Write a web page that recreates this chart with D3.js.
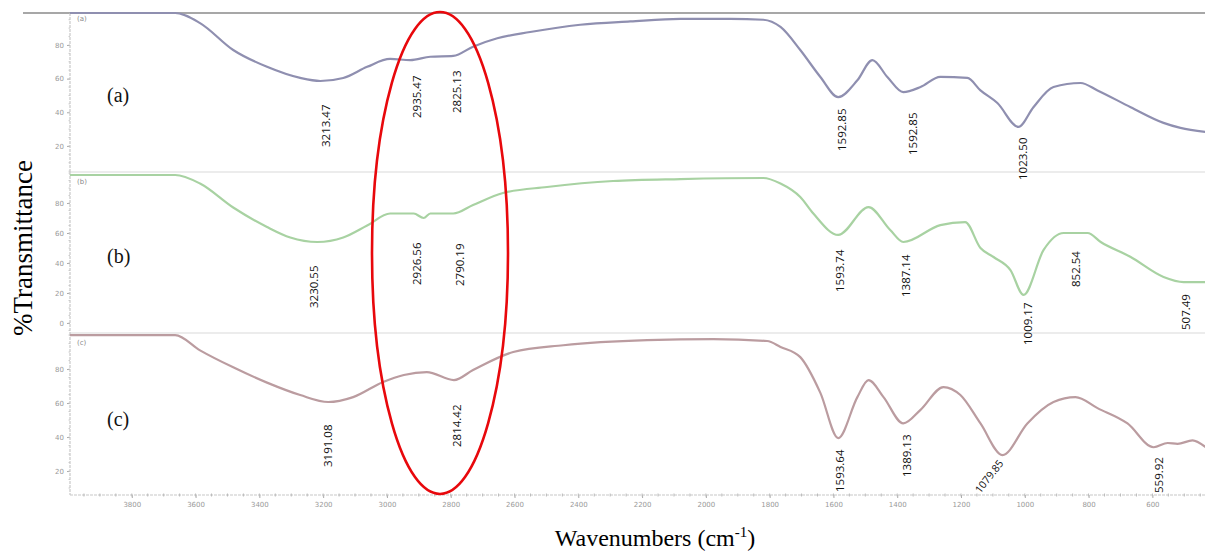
<!DOCTYPE html>
<html><head><meta charset="utf-8">
<script src="https://cdn.jsdelivr.net/npm/d3@7"></script>
<style>body{margin:0;background:#fff;}svg{display:block;}</style>
</head><body>
<svg id="chart" width="1205" height="554"></svg>
<script>
// ---- data ----
const waveA = [3994,3664,3586,3482,3376,3272,3209,3137,3062,2990,2927,2864,2792,2730,2654,2551,2394,2237,2080,1923,1820,1766,1704,1641,1585,1525,1478,1431,1381,1327,1265,1180,1139,1086,1020,973,910,825,772,668,565,512,433];
const transA = [99,99,93,77,67,60.4,58.6,60.4,67,71.7,71,73,73.5,79,84,87.7,92,94,95.5,95.5,95,90.7,77,61,49,59,71,61,52,55,61,60.4,53,45.5,31.3,43,55,57.4,53,43,33.7,30.7,28.3];
const waveB = [3994,3664,3586,3482,3376,3303,3218,3137,3062,2990,2947,2916,2885,2864,2792,2730,2636,2498,2291,2080,1820,1766,1704,1663,1585,1490,1422,1381,1265,1187,1139,1098,1045,1004,941,878,803,762,668,565,502,433];
const transB = [98.7,98.7,93,77,64,57,54,57,65,73,73,73,70,73,73,78.7,86.7,90.7,94.7,96,96.7,93,84,73,58.7,77.3,62,54,65.3,67.3,50,44,35.3,18.7,48.7,60,60,54,44,30.7,27.3,27.3];
const waveC = [3994,3664,3586,3482,3376,3272,3184,3106,3012,2947,2875,2790,2730,2604,2447,2184,1977,1808,1766,1704,1641,1585,1525,1490,1443,1381,1327,1255,1202,1139,1070,992,910,841,772,678,596,552,521,474,433];
const transC = [100,100,91,81,72,64.7,60.6,63.5,72.4,76.5,78.2,73.5,79.4,90,94,97,97.6,96.5,93,87,66,39.4,63.5,73.5,63.5,48,56,69.4,64.7,48,29.4,48,60.6,63.5,57,48,34,36.5,36,38,34];

const peaksA = [{t:"3213.47",w:3190},{t:"2935.47",w:2905},{t:"2825.13",w:2780},{t:"1592.85",w:1572},{t:"1592.85",w:1352},{t:"1023.50",w:1005}];
const peaksB = [{t:"3230.55",w:3228},{t:"2926.56",w:2905},{t:"2790.19",w:2771},{t:"1593.74",w:1578},{t:"1387.14",w:1374},{t:"1009.17",w:989},{t:"852.54",w:841},{t:"507.49",w:496}];
const peaksC = [{t:"3191.08",w:3184},{t:"2814.42",w:2780},{t:"1593.64",w:1578},{t:"1389.13",w:1368},{t:"559.92",w:578}];
const xTicks = [3800,3600,3400,3200,3000,2800,2600,2400,2200,2000,1800,1600,1400,1200,1000,800,600];
const yTicksA = [20,40,60,80];
const yTicksB = [0,20,40,60,80];
const yTicksC = [20,40,60,80];

// ---- drawing ----
const svg = d3.select("#chart");
const x = d3.scaleLinear().domain([4000, 435]).range([68, 1205]);

const panels = [
  {id:"a", wave:waveA, tr:transA, peaks:peaksA, ticks:yTicksA, dom:[4.5,99], rng:[172,13], color:"#8f8fb0", labTop:21},
  {id:"b", wave:waveB, tr:transB, peaks:peaksB, ticks:yTicksB, dom:[-6.7,100.7], rng:[333,172], color:"#a8d2a2", labTop:184},
  {id:"c", wave:waveC, tr:transC, peaks:peaksC, ticks:yTicksC, dom:[5.9,101.2], rng:[495,333], color:"#bb9ca0", labTop:345}
];
const peakBottoms = {
  a:[147,118,113,151,155,180],
  b:[308,285,286,292,297,345,287,330],
  c:[467,447,492,477,493]
};
const bigLabelY = {a:102, b:263, c:426};

svg.append("line").attr("x1",23).attr("x2",1205).attr("y1",13).attr("y2",13).attr("stroke","#8a8a8a").attr("stroke-width",1.5);
[172,333].forEach(yy=>svg.append("line").attr("x1",70).attr("x2",1205).attr("y1",yy).attr("y2",yy).attr("stroke","#e6e6e6").attr("stroke-width",1.5));

panels.forEach(p=>{
  const y = d3.scaleLinear().domain(p.dom).range(p.rng);
  const g = svg.append("g").attr("transform","translate(70,0)");
  const ax = d3.axisLeft(y).tickValues(p.ticks).tickSize(3).tickFormat(d3.format("d"));
  g.call(ax);
  g.select(".domain").remove();
  g.selectAll("line").attr("stroke","#aaa");
  g.selectAll("text").attr("fill","#999").attr("font-size",7).attr("font-family","DejaVu Sans");
  const minors = d3.range(Math.ceil(p.dom[0]/5)*5, p.dom[1], 5);
  g.selectAll(".mn").data(minors).enter().append("line").attr("x1",-1.5).attr("x2",0)
    .attr("y1",d=>y(d)).attr("y2",d=>y(d)).attr("stroke","#ccc");
  g.append("line").attr("x1",0).attr("x2",0).attr("y1",p.rng[1]).attr("y2",p.rng[0])
    .attr("stroke","#c8c8c8").attr("stroke-width",1.2).attr("stroke-dasharray","3,1");
  svg.append("text").attr("x",77).attr("y",p.labTop).attr("font-size",7).attr("fill","#888")
    .attr("font-family","DejaVu Sans").text("("+p.id+")");
  const pts = p.wave.map((w,i)=>[x(w), y(p.tr[i])]).sort((a,b)=>a[0]-b[0]);
  svg.append("path").attr("d", d3.line().curve(d3.curveMonotoneX)(pts))
    .attr("fill","none").attr("stroke",p.color).attr("stroke-width",2.2).attr("stroke-linejoin","round");
  svg.append("text").attr("x",107).attr("y",bigLabelY[p.id]).attr("font-family","Liberation Serif")
    .attr("font-size",20).attr("fill","#111").text("("+p.id+")");
  p.peaks.forEach((pk,i)=>{
    const xx = x(pk.w), yb = peakBottoms[p.id][i];
    svg.append("text").attr("transform",`translate(${xx+4},${yb}) rotate(-90)`)
      .attr("font-family","Open Sans").attr("font-size",11.5).attr("fill","#111").text(pk.t);
  });
});
svg.append("text").attr("transform",`translate(${x(1140)},${494}) rotate(-52)`)
  .attr("font-family","Open Sans").attr("font-size",10.5).attr("fill","#111").text("1079.85");

const gx = svg.append("g").attr("transform","translate(0,495)");
gx.call(d3.axisBottom(x).tickValues(xTicks).tickSize(3).tickFormat(d3.format("d")));
gx.select(".domain").remove();
gx.selectAll("line").attr("stroke","#aaa");
gx.selectAll("text").attr("fill","#999").attr("font-size",7).attr("font-family","DejaVu Sans").attr("dy","0.9em");
gx.append("line").attr("x1",70).attr("x2",1205).attr("y1",0).attr("y2",0).attr("stroke","#c8c8c8").attr("stroke-width",1.2).attr("stroke-dasharray","3,1");
gx.selectAll(".mx").data(d3.range(3950,430,-50)).enter().append("line")
  .attr("x1",d=>x(d)).attr("x2",d=>x(d)).attr("y1",-1.5).attr("y2",1.5).attr("stroke","#bbb");

svg.append("ellipse").attr("cx",440).attr("cy",253).attr("rx",68).attr("ry",241)
  .attr("fill","none").attr("stroke","#e8080c").attr("stroke-width",2.6);

svg.append("text").attr("transform","translate(32,248) rotate(-90)").attr("text-anchor","middle")
  .attr("font-family","Liberation Serif").attr("font-size",27).attr("fill","#000").text("%Transmittance");
const xt = svg.append("text").attr("x",655).attr("y",546).attr("text-anchor","middle")
  .attr("font-family","Liberation Serif").attr("font-size",24).attr("fill","#000");
xt.append("tspan").text("Wavenumbers (cm");
xt.append("tspan").attr("font-size",15).attr("dy",-9).text("-1");
xt.append("tspan").attr("dy",9).text(")");
</script>
</body></html>
